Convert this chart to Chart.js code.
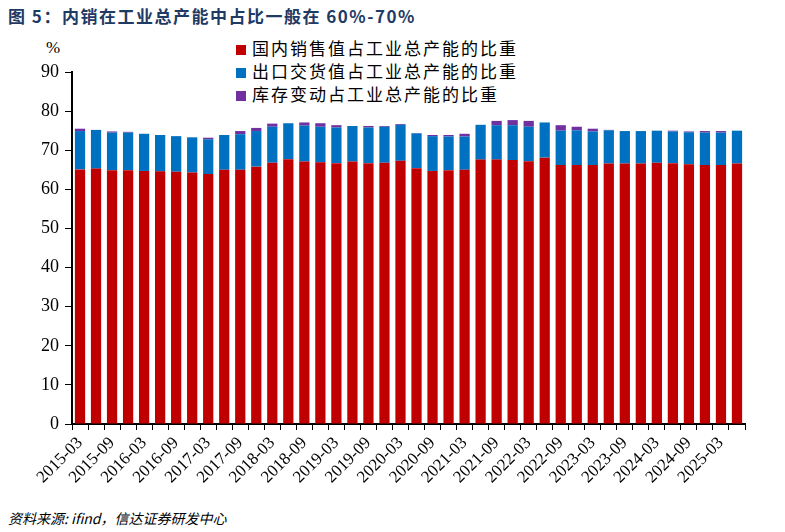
<!DOCTYPE html>
<html><head><meta charset="utf-8">
<script src="https://cdn.jsdelivr.net/npm/chart.js@4/dist/chart.umd.min.js"></script>
<style>
body{margin:0;width:785px;height:532px;background:#fff;position:relative;overflow:hidden}
#t{position:absolute;left:8px;top:3px;font:bold 17px "Noto Sans CJK SC","Liberation Sans",sans-serif;color:#1F3A64;letter-spacing:1.5px}
#src{position:absolute;left:8px;top:508px;font:italic 14px "Noto Sans CJK SC",sans-serif;color:#000}
#pct{position:absolute;left:46px;top:38px;font:17px "Liberation Serif",serif}
#lg{position:absolute;left:236px;top:36px;font:17px "Noto Sans CJK SC",sans-serif;line-height:23px;letter-spacing:2px}
#lg span{display:inline-block;width:10px;height:10px;margin-right:6px}
canvas{position:absolute;left:0;top:0}
</style></head><body>
<div id="t">图 5：内销在工业总产能中占比一般在 60%-70%</div>
<div id="pct">%</div>
<div id="lg">
<div><span style="background:#C00000"></span>国内销售值占工业总产能的比重</div>
<div><span style="background:#0070C0"></span>出口交货值占工业总产能的比重</div>
<div><span style="background:#7030A0"></span>库存变动占工业总产能的比重</div>
</div>
<div id="src">资料来源: ifind，信达证券研发中心</div>
<canvas id="c" width="785" height="532"></canvas>
<script>
const categories=[];
for(let y=2015;y<=2025;y++){for(const m of ['03','06','09','12']){if(y===2025&&(m==='09'||m==='12'))continue;categories.push(y+'-'+m);}}
const domestic=[65.1,65.3,64.9,64.9,64.7,64.6,64.5,64.3,63.9,65.0,65.0,65.8,66.8,67.7,67.1,66.9,66.7,67.1,66.7,66.8,67.3,65.4,64.7,64.9,65.0,67.6,67.6,67.5,67.2,68.1,66.2,66.2,66.2,66.6,66.6,66.6,66.8,66.7,66.4,66.2,66.2,66.6];
const exportShare=[9.8,9.9,9.6,9.6,9.5,9.3,9.1,9.0,8.9,8.9,9.1,9.1,9.2,9.2,9.2,9.1,9.1,9.1,9.1,9.2,9.2,8.9,8.9,8.6,8.5,8.9,8.8,8.9,8.8,9.0,8.8,8.9,8.6,8.5,8.3,8.3,8.2,8.1,8.2,8.3,8.3,8.4];
const inventory=[0.6,0,0.3,0.2,0,0,0,0,0.4,0,0.8,0.8,0.8,0,0.8,0.9,0.6,0,0.4,0.2,0.2,0.1,0.3,0.4,0.7,0,1.1,1.3,1.5,0,1.4,0.9,0.7,0.1,0,0,0,0.2,0.2,0.4,0.4,0];
const yTicks=[0,10,20,30,40,50,60,70,80,90];
new Chart(document.getElementById('c'),{
 type:'bar',
 data:{labels:categories,datasets:[
  {label:'国内销售值占工业总产能的比重',data:domestic,backgroundColor:'#C00000'},
  {label:'出口交货值占工业总产能的比重',data:exportShare,backgroundColor:'#0070C0'},
  {label:'库存变动占工业总产能的比重',data:inventory,backgroundColor:'#7030A0'}]},
 options:{responsive:false,animation:false,devicePixelRatio:1,
  layout:{padding:{top:72,right:40,left:0,bottom:0}},
  plugins:{legend:{display:false},tooltip:{enabled:false}},
  datasets:{bar:{barPercentage:0.64,categoryPercentage:1}},
  scales:{
   x:{stacked:true,grid:{display:true,drawOnChartArea:false,color:'#000',tickLength:6,offset:true},border:{color:'#000',width:2},
      afterFit:s=>{s.height=108;},
      ticks:{autoSkip:false,maxRotation:45,minRotation:45,color:'#000',font:{family:'Liberation Serif',size:17},
        callback:function(v,i){return i%2===0?categories[i]:'';}}},
   y:{stacked:true,min:0,max:90,afterFit:s=>{s.width=72;},
      afterBuildTicks:s=>{s.ticks=yTicks.map(v=>({value:v}));},
      grid:{display:true,drawOnChartArea:false,color:'#000',tickLength:7},border:{color:'#000',width:2},
      ticks:{color:'#000',font:{family:'Liberation Serif',size:18},padding:6}}
  }}
});
</script>
</body></html>
